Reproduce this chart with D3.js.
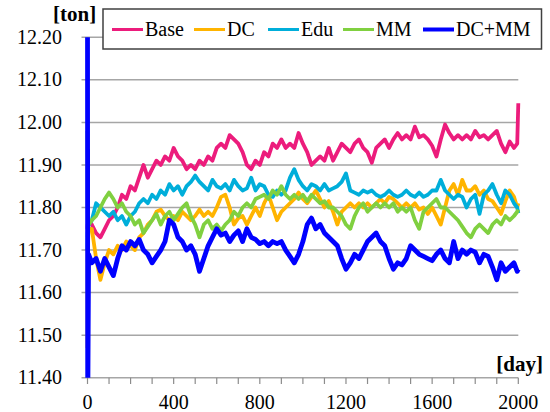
<!DOCTYPE html>
<html>
<head>
<meta charset="utf-8">
<script src="https://d3js.org/d3.v7.min.js"></script>
</head>
<body style="margin:0">
<script>
var FONT = "'Liberation Serif', Tinos, FreeSerif, 'Times New Roman', monospace";

// days sampled (start spike, then every 20 days, end spike)
var days = [0, 1, 5];
for (var d = 20; d <= 1980; d += 20) days.push(d);
days.push(1995, 2000);

var base = [11.75, 11.76, 11.77,
  11.76, 11.74, 11.73, 11.75, 11.77, 11.78, 11.80, 11.83, 11.82, 11.85,
  11.84, 11.87, 11.90, 11.87, 11.89, 11.91, 11.90, 11.92, 11.91, 11.94,
  11.92, 11.91, 11.89, 11.90, 11.89, 11.91, 11.90, 11.92, 11.91, 11.94,
  11.95, 11.94, 11.97, 11.96, 11.95, 11.93, 11.90, 11.89, 11.91, 11.90,
  11.93, 11.92, 11.95, 11.94, 11.96, 11.94, 11.95, 11.94, 11.975, 11.95,
  11.93, 11.90, 11.91, 11.92, 11.91, 11.94, 11.91, 11.93, 11.95, 11.94,
  11.93, 11.95, 11.96, 11.94, 11.93, 11.905, 11.94, 11.95, 11.96, 11.94,
  11.96, 11.975, 11.96, 11.97, 11.96, 11.99, 11.965, 11.97, 11.96, 11.945,
  11.92, 11.96, 11.995, 11.975, 11.96, 11.97, 11.96, 11.97, 11.96, 11.98,
  11.965, 11.97, 11.96, 11.97, 11.98, 11.95, 11.93, 11.955, 11.94,
  11.95, 12.045];

var dc = [11.47, 11.70, 11.75,
  11.75, 11.68, 11.63, 11.67, 11.70, 11.69, 11.71, 11.70, 11.72, 11.71,
  11.70, 11.73, 11.74, 11.76, 11.77, 11.79, 11.795, 11.78, 11.77, 11.78,
  11.77, 11.79, 11.78, 11.77, 11.78, 11.795, 11.78, 11.79, 11.78, 11.80,
  11.825, 11.83, 11.80, 11.76, 11.775, 11.78, 11.76, 11.78, 11.80, 11.78,
  11.81, 11.83, 11.80, 11.77, 11.79, 11.80, 11.81, 11.82, 11.835, 11.82,
  11.81, 11.825, 11.84, 11.82, 11.80, 11.815, 11.79, 11.76, 11.79, 11.80,
  11.81, 11.80, 11.81, 11.80, 11.81, 11.80, 11.81, 11.82, 11.81, 11.825,
  11.82, 11.81, 11.80, 11.81, 11.80, 11.81, 11.795, 11.80, 11.785, 11.80,
  11.78, 11.76, 11.80, 11.84, 11.855, 11.83, 11.865, 11.84, 11.84, 11.85,
  11.83, 11.84, 11.82, 11.815, 11.80, 11.785, 11.815, 11.84, 11.825,
  11.80, 11.81];

var edu = [11.70, 11.74, 11.76,
  11.77, 11.81, 11.80, 11.79, 11.78, 11.79, 11.77, 11.78, 11.76, 11.78,
  11.79, 11.81, 11.82, 11.81, 11.83, 11.82, 11.84, 11.83, 11.855, 11.84,
  11.85, 11.83, 11.85, 11.86, 11.875, 11.86, 11.85, 11.84, 11.865, 11.85,
  11.845, 11.855, 11.84, 11.865, 11.85, 11.84, 11.845, 11.87, 11.84, 11.855,
  11.85, 11.83, 11.825, 11.84, 11.83, 11.84, 11.87, 11.89, 11.865, 11.85,
  11.84, 11.855, 11.85, 11.84, 11.855, 11.84, 11.845, 11.85, 11.86, 11.88,
  11.84, 11.835, 11.83, 11.84, 11.835, 11.84, 11.83, 11.825, 11.83, 11.84,
  11.83, 11.825, 11.83, 11.84, 11.83, 11.825, 11.835, 11.825, 11.83, 11.84,
  11.84, 11.865, 11.84, 11.83, 11.82, 11.83, 11.825, 11.80, 11.82, 11.83,
  11.785, 11.83, 11.84, 11.855, 11.83, 11.81, 11.84, 11.83, 11.81,
  11.80, 11.787];

var mm = [11.98, 11.80, 11.76,
  11.77, 11.78, 11.80, 11.82, 11.835, 11.82, 11.80, 11.81, 11.79, 11.78,
  11.76, 11.77, 11.74, 11.755, 11.77, 11.785, 11.76, 11.78, 11.79, 11.77,
  11.785, 11.80, 11.81, 11.78, 11.76, 11.73, 11.76, 11.77, 11.75, 11.76,
  11.745, 11.76, 11.77, 11.79, 11.78, 11.80, 11.81, 11.80, 11.82, 11.825,
  11.83, 11.82, 11.84, 11.83, 11.85, 11.83, 11.82, 11.83, 11.82, 11.83,
  11.815, 11.83, 11.82, 11.81, 11.815, 11.80, 11.80, 11.79, 11.78, 11.76,
  11.75, 11.78, 11.80, 11.81, 11.79, 11.80, 11.81, 11.80, 11.81, 11.80,
  11.81, 11.79, 11.80, 11.79, 11.80, 11.77, 11.75, 11.79, 11.80, 11.81,
  11.82, 11.80, 11.80, 11.79, 11.78, 11.77, 11.755, 11.74, 11.73, 11.75,
  11.76, 11.75, 11.74, 11.76, 11.77, 11.76, 11.78, 11.77, 11.78,
  11.79, 11.795];

var dcmm = [12.30, 11.30, 11.69,
  11.67, 11.68, 11.65, 11.68, 11.66, 11.64, 11.68, 11.71, 11.70, 11.72,
  11.71, 11.725, 11.70, 11.69, 11.67, 11.685, 11.70, 11.72, 11.77, 11.76,
  11.73, 11.72, 11.70, 11.71, 11.69, 11.65, 11.68, 11.71, 11.73, 11.75,
  11.735, 11.74, 11.72, 11.735, 11.745, 11.72, 11.75, 11.73, 11.725, 11.715,
  11.72, 11.71, 11.72, 11.715, 11.72, 11.70, 11.685, 11.67, 11.69, 11.72,
  11.76, 11.775, 11.75, 11.76, 11.74, 11.73, 11.72, 11.71, 11.68, 11.655,
  11.67, 11.69, 11.68, 11.70, 11.72, 11.73, 11.74, 11.72, 11.71, 11.68,
  11.655, 11.67, 11.665, 11.68, 11.71, 11.70, 11.69, 11.685, 11.68, 11.675,
  11.69, 11.70, 11.68, 11.67, 11.72, 11.68, 11.70, 11.69, 11.70, 11.695,
  11.67, 11.69, 11.685, 11.66, 11.63, 11.67, 11.65, 11.66, 11.67,
  11.65, 11.655];

var seriesNames = ["Base", "DC", "Edu", "MM", "DC+MM"];
var seriesValues = [base, dc, edu, mm, dcmm];
var colors = ["#EC1C7C", "#FFB400", "#00AEDA", "#80D040", "#0000FF"];
var widths = [3.8, 3.8, 3.8, 3.8, 4.8];
var legendWidths = [3, 3, 3, 3, 4];

var yTicks = [11.40, 11.50, 11.60, 11.70, 11.80, 11.90, 12.00, 12.10, 12.20];
var xTicks = d3.range(0, 2001, 100);

var W = 550, H = 412;
var x = d3.scaleLinear().domain([0, 2000]).range([87.5, 518.3]);
var y = d3.scaleLinear().domain([11.4, 12.2]).range([377.7, 37.3]);

var svg = d3.select("body").append("svg")
  .attr("width", W).attr("height", H)
  .attr("font-family", FONT);

function label(sel) {
  return sel.attr("font-family", FONT).style("font-family", FONT).attr("fill", "#000");
}

// gridlines
svg.append("g").selectAll("line")
  .data(yTicks).enter().append("line")
  .attr("x1", 81.5).attr("x2", 518.3)
  .attr("y1", function (v) { return y(v); }).attr("y2", function (v) { return y(v); })
  .attr("stroke", "#a6a6a6").attr("stroke-width", 1.5);

// y labels
label(svg.append("g").selectAll("text")
  .data(yTicks).enter().append("text")
  .attr("x", 62).attr("y", function (v) { return y(v) + 6.6; })
  .attr("text-anchor", "end")
  .attr("font-size", 20)
  .text(function (v) { return v.toFixed(2); }));

// x ticks and labels
svg.append("g").selectAll("line")
  .data(xTicks).enter().append("line")
  .attr("x1", function (v) { return x(v); }).attr("x2", function (v) { return x(v); })
  .attr("y1", 377.7).attr("y2", 384)
  .attr("stroke", "#8c8c8c").attr("stroke-width", 1.2);
label(svg.append("g").selectAll("text")
  .data(xTicks.filter(function (v) { return v % 400 === 0; })).enter().append("text")
  .attr("x", function (v) { return x(v); }).attr("y", 409)
  .attr("text-anchor", "middle")
  .attr("font-size", 20)
  .text(function (v) { return v; }));

// y axis line
svg.append("line")
  .attr("x1", x(0)).attr("x2", x(0)).attr("y1", y(12.2)).attr("y2", y(11.4))
  .attr("stroke", "#8c8c8c").attr("stroke-width", 1.2);

svg.append("clipPath").attr("id", "plot")
  .append("rect").attr("x", 80).attr("y", y(12.2)).attr("width", 450).attr("height", y(11.4) - y(12.2));

var line = d3.line()
  .x(function (d, i) { return x(days[i]); })
  .y(function (d) { return y(d); });

var lines = svg.append("g").attr("clip-path", "url(#plot)");
seriesValues.forEach(function (vals, k) {
  lines.append("path")
    .attr("d", line(vals))
    .attr("fill", "none")
    .attr("stroke", colors[k])
    .attr("stroke-width", widths[k])
    .attr("stroke-linejoin", "round");
});

// unit labels
label(svg.append("text").attr("x", 53).attr("y", 21)
  .attr("font-size", 21).attr("font-weight", "bold").text("[ton]"));
label(svg.append("text").attr("x", 543).attr("y", 371).attr("text-anchor", "end")
  .attr("font-size", 21).attr("font-weight", "bold").text("[day]"));

// legend
var legend = svg.append("g");
legend.append("rect")
  .attr("x", 103).attr("y", 9).attr("width", 438.5).attr("height", 40)
  .attr("fill", "#fff").attr("stroke", "#404040").attr("stroke-width", 1.5);
var legX = [112, 194, 268, 343, 423];
seriesNames.forEach(function (name, k) {
  legend.append("line")
    .attr("x1", legX[k]).attr("x2", legX[k] + 31).attr("y1", 29.5).attr("y2", 29.5)
    .attr("stroke", colors[k]).attr("stroke-width", legendWidths[k]);
  label(legend.append("text")
    .attr("x", legX[k] + 33).attr("y", 36)
    .attr("font-size", 20).text(name));
});
</script>
</body>
</html>
